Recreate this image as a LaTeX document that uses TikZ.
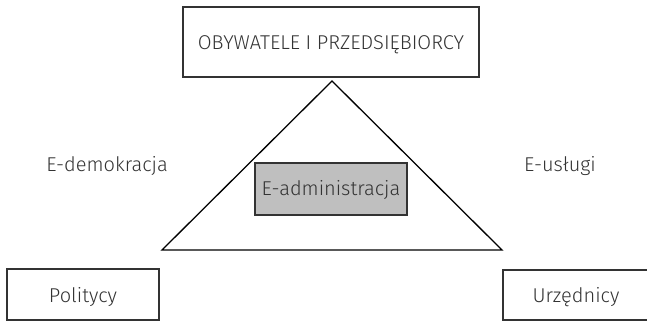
\documentclass[tikz,border=0pt]{standalone}
\usepackage{fontspec}
\setmainfont{Fira Sans Light}
\begin{document}
\begin{tikzpicture}[x=1pt,y=-1pt,
  lbl/.style={text=black!80, font=\fontsize{20}{24}\selectfont, inner sep=0pt},
  boxst/.style={draw=black!80, line width=1.3pt}]
\useasboundingbox (0,0) rectangle (647,321);
\draw[boxst] (183,7) rectangle (479,77);
\node[lbl] (top) at (331,45) {OBYWATELE I PRZEDSIĘBIORCY};
\coordinate (apex) at (332,81);
\coordinate (bl) at (162,250);
\coordinate (br) at (502,250);
\draw[line width=1.3pt, line join=miter] (apex) -- (bl) -- (br) -- cycle;
\draw[boxst, fill=black!25] (255,163) rectangle (407,215);
\node[lbl] (adm) at (331,190) {E-administracja};
\node[lbl] (dem) at (107,166) {E-demokracja};
\node[lbl] (usl) at (560,166) {E-usługi};
\draw[boxst] (7,269) rectangle (159,320);
\node[lbl] (pol) at (83,297) {Politycy};
\draw[boxst] (503,270) rectangle (652,320);
\node[lbl] (urz) at (576,297) {Urzędnicy};
\end{tikzpicture}
\end{document}
